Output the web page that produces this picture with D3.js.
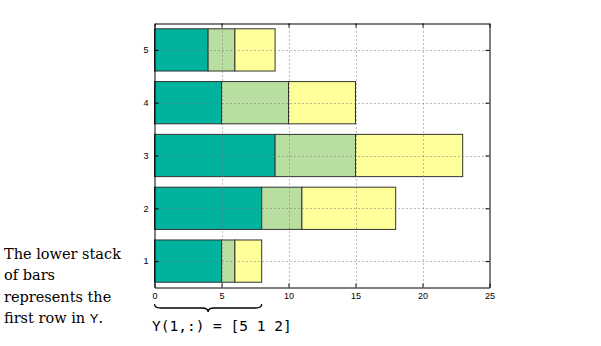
<!DOCTYPE html>
<html>
<head>
<meta charset="utf-8">
<script src="https://cdn.jsdelivr.net/npm/d3@7"></script>
<style>
  html, body { margin: 0; padding: 0; background: #fff; }
  svg { display: block; }
</style>
</head>
<body>
<div id="chart"></div>
<script>
// Stacked horizontal bars: each row of Y is one bar, split into three segments.
const rows = [1, 2, 3, 4, 5];
const seg1 = [5, 8, 9, 5, 4];
const seg2 = [1, 3, 6, 5, 2];
const seg3 = [2, 7, 8, 5, 3];
const xTicks = [0, 5, 10, 15, 20, 25];
const segColors = ["#00b39f", "#b8df9f", "#ffff99"];
const noteLines = ["The lower stack", "of bars", "represents the", "first row in "];
const rowLabel = "Y(1,:) = [5 1 2]";

const W = 601, H = 346;
const plot = { left: 154.5, right: 489.5, top: 23.5, bottom: 287.5 };

const svg = d3.select("#chart").append("svg")
  .attr("width", W).attr("height", H);

const x = d3.scaleLinear().domain([0, 25]).range([plot.left, plot.right]);
const y = d3.scaleLinear().domain([0.5, 5.5]).range([plot.bottom, plot.top]);
const barH = (y(1) - y(1.8));

const table = rows.map((r, i) => ({ row: r, s0: seg1[i], s1: seg2[i], s2: seg3[i] }));
const stacked = d3.stack().keys(["s0", "s1", "s2"])(table);

// bars
svg.append("g").selectAll("g")
  .data(stacked).join("g")
  .attr("fill", (d, i) => segColors[i])
  .selectAll("rect")
  .data(d => d).join("rect")
  .attr("x", d => x(d[0]))
  .attr("width", d => x(d[1]) - x(d[0]))
  .attr("y", d => y(d.data.row) - barH / 2)
  .attr("height", barH)
  .attr("stroke", "#333")
  .attr("stroke-width", 1);

// dotted grid drawn over the bars
const grid = svg.append("g")
  .attr("stroke", "#777")
  .attr("stroke-width", 1)
  .attr("stroke-dasharray", "1,3");
grid.selectAll(".gx").data(xTicks.slice(1, -1)).join("line")
  .attr("x1", d => Math.round(x(d)) + 0.5).attr("x2", d => Math.round(x(d)) + 0.5)
  .attr("y1", plot.top).attr("y2", plot.bottom);
grid.selectAll(".gy").data(rows).join("line")
  .attr("y1", d => Math.round(y(d)) + 0.5).attr("y2", d => Math.round(y(d)) + 0.5)
  .attr("x1", plot.left).attr("x2", plot.right);

// axes
const font = "Liberation Sans, Arial, sans-serif";
const xAxis = svg.append("g")
  .attr("transform", `translate(0,${plot.bottom})`)
  .call(d3.axisBottom(x).tickValues(xTicks).tickSizeInner(-4).tickSizeOuter(0).tickPadding(5));
const xTop = svg.append("g")
  .attr("transform", `translate(0,${plot.top})`)
  .call(d3.axisTop(x).tickValues(xTicks).tickSizeInner(-4).tickSizeOuter(0).tickFormat(""));
const yAxis = svg.append("g")
  .attr("transform", `translate(${plot.left},0)`)
  .call(d3.axisLeft(y).tickValues(rows).tickFormat(d3.format("d")).tickSizeInner(-4).tickSizeOuter(0).tickPadding(6));
const yRight = svg.append("g")
  .attr("transform", `translate(${plot.right},0)`)
  .call(d3.axisRight(y).tickValues(rows).tickSizeInner(-4).tickSizeOuter(0).tickFormat(""));

[xAxis, xTop, yAxis, yRight].forEach(g => {
  g.select(".domain").attr("stroke", "#000");
  g.selectAll(".tick line").attr("stroke", "#000");
  g.selectAll("text").attr("font-family", font).attr("font-size", 9).attr("fill", "#000");
});

// explanatory note on the left
const note = svg.append("g")
  .attr("font-family", "DejaVu Serif, serif")
  .attr("font-size", 14.5)
  .attr("fill", "#000");
noteLines.forEach((t, i) => {
  const txt = note.append("text").attr("x", 4).attr("y", 259 + i * 21.3).text(t);
  if (i === noteLines.length - 1) {
    txt.append("tspan").attr("font-family", font).attr("font-size", 13).text("Y");
    txt.append("tspan").text(".");
  }
});

// brace under the first row's extent
const b0 = x(0), b1 = x(seg1[0] + seg2[0] + seg3[0]);
const bm = (b0 + b1) / 2, by = 304;
svg.append("path")
  .attr("d", `M${b0},${by} Q${b0},${by + 4} ${b0 + 6},${by + 4} L${bm - 6},${by + 4} Q${bm},${by + 4} ${bm},${by + 8} Q${bm},${by + 4} ${bm + 6},${by + 4} L${b1 - 6},${by + 4} Q${b1},${by + 4} ${b1},${by}`)
  .attr("fill", "none").attr("stroke", "#000").attr("stroke-width", 1.3);

svg.append("text")
  .attr("x", 152).attr("y", 331)
  .attr("font-family", "DejaVu Sans Mono, monospace")
  .attr("font-size", 14.5)
  .attr("fill", "#000")
  .text(rowLabel);
</script>
</body>
</html>
